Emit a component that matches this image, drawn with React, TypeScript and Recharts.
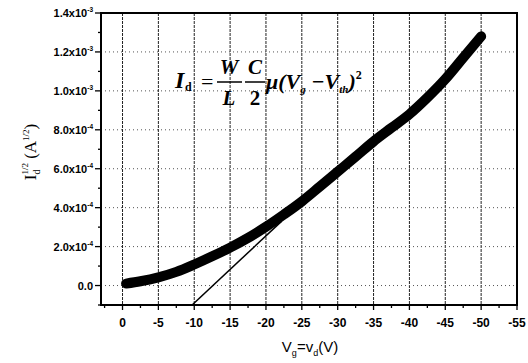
import { ComposedChart, Line, XAxis, YAxis, CartesianGrid } from "recharts";

// measured sqrt(Id) vs gate voltage (Vg = Vd)
const VG = [-0.5, -2.5, -5, -7.5, -10, -12.5, -15, -17.5, -20, -22.5, -25, -27.5, -30, -32.5, -35, -37.5, -40, -42.5, -45, -47.5, -50];
const SQRT_ID = [0.1e-4, 0.22e-4, 0.42e-4, 0.7e-4, 1.08e-4, 1.5e-4, 1.95e-4, 2.45e-4, 3.02e-4, 3.65e-4, 4.32e-4, 5.08e-4, 5.85e-4, 6.62e-4, 7.4e-4, 8.1e-4, 8.8e-4, 9.65e-4, 1.06e-3, 1.17e-3, 1.28e-3];

// linear fit used for the threshold extraction
const FIT_VG = [-9.7, -22.2];
const FIT_Y = [-1.0e-4, 3.31e-4];

const X_DOMAIN = [-55, 3];
const Y_DOMAIN = [-1e-4, 1.4e-3];

const X_MAJOR = [0, -5, -10, -15, -20, -25, -30, -35, -40, -45, -50, -55];
const X_LABELS = ["0", "-5", "-10", "-15", "-20", "-25", "-30", "-35", "-40", "-45", "-50", "-55"];
const X_MINOR = [2.5, -2.5, -7.5, -12.5, -17.5, -22.5, -27.5, -32.5, -37.5, -42.5, -47.5, -52.5];

const Y_MAJOR = [0, 2e-4, 4e-4, 6e-4, 8e-4, 1.0e-3, 1.2e-3, 1.4e-3];
const Y_LABELS = ["0.0", "2.0x10", "4.0x10", "6.0x10", "8.0x10", "1.0x10", "1.2x10", "1.4x10"];
const Y_EXP = ["", "-4", "-4", "-4", "-4", "-3", "-3", "-3"];
const Y_MINOR = [-1e-4, 1e-4, 3e-4, 5e-4, 7e-4, 9e-4, 1.1e-3, 1.3e-3];

const curveData = VG.map((x, i) => ({ x, y: SQRT_ID[i] }));
const fitData = FIT_VG.map((x, i) => ({ x, y: FIT_Y[i] }));

const near = (a: number, b: number) => Math.abs(a - b) < 1e-9;

const TICK_FONT = "'Liberation Sans', Arial, sans-serif";
const SERIF = "'Liberation Serif', 'Times New Roman', serif";

const XTick = (props: any) => {
  const { x, y, payload } = props;
  const idx = X_MAJOR.findIndex((m) => near(m, payload.value));
  const major = idx >= 0;
  return (
    <g>
      <line x1={x} x2={x} y1={y} y2={y + (major ? 5 : 3)} stroke="#000" strokeWidth={1.3} />
      {major && (
        <text x={x} y={y + 22} textAnchor="middle" fontFamily={TICK_FONT} fontWeight="bold" fontSize={12} fill="#000">
          {X_LABELS[idx]}
        </text>
      )}
    </g>
  );
};

const YTick = (props: any) => {
  const { x, y, payload } = props;
  const idx = Y_MAJOR.findIndex((m) => near(m, payload.value));
  const major = idx >= 0;
  return (
    <g>
      <line x1={x - (major ? 6 : 3)} x2={x} y1={y} y2={y} stroke="#000" strokeWidth={1.3} />
      {major && (
        <text x={x - 8} y={y + 4} textAnchor="end" fontFamily={TICK_FONT} fontWeight="bold" fontSize={11} fill="#000">
          {Y_LABELS[idx]}
          {Y_EXP[idx] && (
            <tspan dy={-5} fontSize={6.5}>
              {Y_EXP[idx]}
            </tspan>
          )}
        </text>
      )}
    </g>
  );
};

export default function App() {
  return (
    <div style={{ position: "absolute", left: 0, top: 0, width: 528, height: 363, background: "#fff" }}>
      <ComposedChart width={528} height={363} margin={{ top: 13, right: 11, left: 0, bottom: 0 }}>
        <CartesianGrid horizontal={false} verticalValues={X_MAJOR.slice(0, -1)} stroke="#222" strokeDasharray="3 1" />
        <CartesianGrid vertical={false} horizontalValues={Y_MAJOR.slice(0, -1)} stroke="#555" strokeDasharray="1 3" />
        <XAxis
          dataKey="x"
          type="number"
          domain={X_DOMAIN}
          reversed
          ticks={[...X_MAJOR, ...X_MINOR]}
          interval={0}
          tick={<XTick />}
          tickLine={false}
          tickSize={0}
          tickMargin={0}
          height={58}
          axisLine={{ stroke: "#000", strokeWidth: 2 }}
          allowDataOverflow
        />
        <YAxis
          type="number"
          domain={Y_DOMAIN}
          ticks={[...Y_MAJOR, ...Y_MINOR]}
          interval={0}
          tick={<YTick />}
          tickLine={false}
          tickSize={0}
          tickMargin={0}
          width={101}
          axisLine={{ stroke: "#000", strokeWidth: 2 }}
          allowDataOverflow
        />
        <Line
          data={fitData}
          dataKey="y"
          type="linear"
          stroke="#000"
          strokeWidth={1.5}
          dot={false}
          isAnimationActive={false}
        />
        <Line
          data={curveData}
          dataKey="y"
          type="monotone"
          stroke="#000"
          strokeWidth={10}
          strokeLinecap="round"
          dot={false}
          isAnimationActive={false}
        />
      </ComposedChart>
      {/* plot frame (box around the plotting area) */}
      <div
        style={{
          position: "absolute",
          left: 100,
          top: 12,
          width: 418,
          height: 294,
          boxSizing: "border-box",
          border: "2px solid #000",
          pointerEvents: "none",
        }}
      />
      <svg width={528} height={363} style={{ position: "absolute", left: 0, top: 0, pointerEvents: "none" }}>
        {/* y axis title */}
        <text transform="rotate(-90)" x={-152} y={36} textAnchor="middle" fontFamily={SERIF} fontSize={17} fill="#000">
          I
          <tspan dy={4} fontSize={10}>d</tspan>
          <tspan dy={-12} dx={-5} fontSize={9}>1/2</tspan>
          <tspan dy={8}> (A</tspan>
          <tspan dy={-7} fontSize={9}>1/2</tspan>
          <tspan dy={7}>)</tspan>
        </text>
        {/* x axis title */}
        <text x={310} y={352} textAnchor="middle" fontFamily={TICK_FONT} fontSize={15} fill="#000">
          V<tspan dy={4} fontSize={9}>g</tspan>
          <tspan dy={-4}>=v</tspan>
          <tspan dy={4} fontSize={9}>d</tspan>
          <tspan dy={-4}>(V)</tspan>
        </text>
        {/* formula */}
        <g fontFamily={SERIF} fill="#000" fontWeight="bold">
          <text x={175} y={88} fontSize={24} fontStyle="italic">I</text>
          <text x={185} y={91} fontSize={12}>d</text>
          <text x={201} y={89} fontSize={22} fontWeight="normal">=</text>
          <text x={229} y={74} fontSize={21} fontStyle="italic" textAnchor="middle">W</text>
          <line x1={217} x2={242} y1={82} y2={82} stroke="#000" strokeWidth={1.5} />
          <text x={229} y={105} fontSize={21} fontStyle="italic" textAnchor="middle">L</text>
          <text x={255} y={74} fontSize={21} fontStyle="italic" textAnchor="middle">C</text>
          <line x1={245} x2={265} y1={82} y2={82} stroke="#000" strokeWidth={1.5} />
          <text x={255} y={105} fontSize={21} textAnchor="middle">2</text>
          <text x={266} y={89} fontSize={22} fontStyle="italic">
            μ(V
            <tspan dy={4} fontSize={11}>g</tspan>
            <tspan dy={-4}> −V</tspan>
            <tspan dy={4} fontSize={11}>th</tspan>
            <tspan dy={-4}>)</tspan>
            <tspan dy={-10} fontSize={12} fontStyle="normal">2</tspan>
          </text>
        </g>
      </svg>
    </div>
  );
}
